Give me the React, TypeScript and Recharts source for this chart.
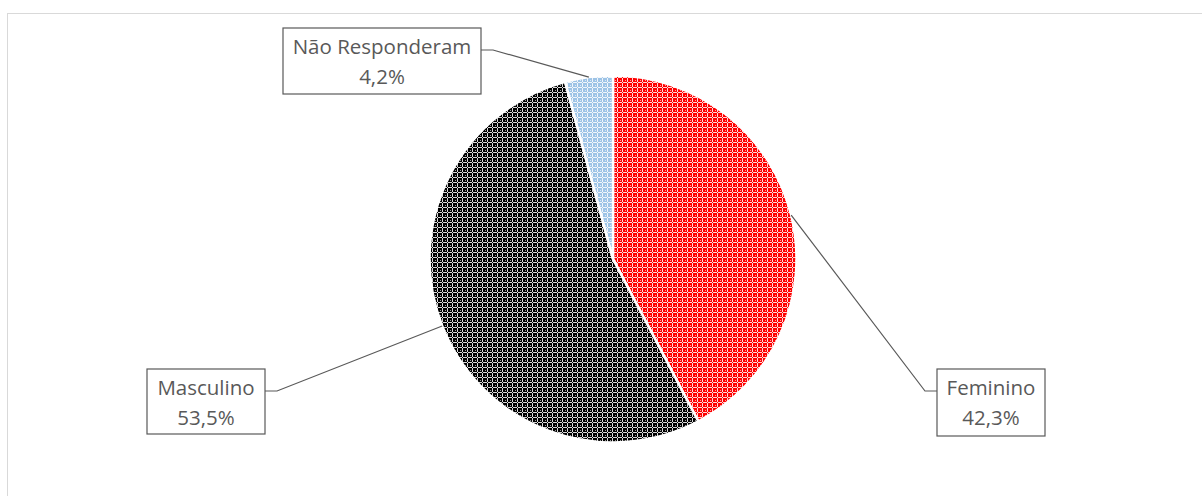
import React from 'react';
import { PieChart, Pie, Cell } from 'recharts';

const categories = ['Feminino', 'Masculino', 'Não Responderam'];
const values = [42.3, 53.5, 4.2];
const colors = ['#ff0000', '#000000', '#9dc3e6'];

const data = categories.map((name, i) => ({ name, value: values[i] }));

// label box layout: offset of box centre from pie centre, box size, side of the leader
const labelLayout = [
  { dx: 378, dy: 143.5, w: 108, h: 67, side: 'left' },
  { dx: -407, dy: 142.5, w: 118, h: 65, side: 'right' },
  { dx: -231, dy: -198, w: 198, h: 66, side: 'right' },
];

const RAD = Math.PI / 180;
const FONT = '"Open Sans", sans-serif';
const GREY = '#595959';

const renderLabel = (props: any) => {
  const { cx, cy, midAngle, outerRadius, index } = props;
  const L = labelLayout[index];
  const px = cx + outerRadius * Math.cos(-midAngle * RAD);
  const py = cy + outerRadius * Math.sin(-midAngle * RAD);
  const bx = cx + L.dx;
  const by = cy + L.dy;
  const left = bx - L.w / 2;
  const top = by - L.h / 2;
  const edgeX = L.side === 'left' ? left : left + L.w;
  const kneeX = L.side === 'left' ? edgeX - 12 : edgeX + 12;
  const lineY = top + 22;
  const pct = values[index].toFixed(1).replace('.', ',') + '%';
  return (
    <g key={`lbl-${index}`}>
      <polyline
        points={`${px},${py} ${kneeX},${lineY} ${edgeX},${lineY}`}
        fill="none"
        stroke={GREY}
        strokeWidth={1.2}
      />
      <rect x={left} y={top} width={L.w} height={L.h} fill="#ffffff" stroke={GREY} strokeWidth={1.2} />
      <text x={bx} y={top + 26} textAnchor="middle" fontFamily={FONT} fontSize={20.5} fill={GREY}>
        {categories[index]}
      </text>
      <text x={bx} y={top + 56} textAnchor="middle" fontFamily={FONT} fontSize={20.5} fill={GREY}>
        {pct}
      </text>
    </g>
  );
};

const Patterns = () => (
  <svg width={0} height={0} style={{ position: 'absolute' }}>
    <defs>
      {colors.map((c, i) => (
        <pattern key={i} id={`pat${i}`} width={5} height={5} patternUnits="userSpaceOnUse">
          <rect x={0} y={0} width={5} height={5} fill={c} />
          <rect x={2} y={0} width={1} height={5} fill="#ffffff" opacity={0.85} />
          <rect x={0} y={2} width={5} height={1} fill="#ffffff" opacity={0.85} />
          <rect x={2} y={2} width={1} height={1} fill={c} />
          <rect x={0} y={0} width={1} height={1} fill="#ffffff" opacity={0.6} />
        </pattern>
      ))}
    </defs>
  </svg>
);

export default function App() {
  return (
    <div style={{ position: 'absolute', left: 0, top: 0, width: 1202, height: 496, background: '#ffffff', overflow: 'hidden' }}>
      <Patterns />
      <div
        style={{
          position: 'absolute',
          left: 7,
          top: 13,
          width: 1300,
          height: 600,
          borderTop: '1px solid #d9d9d9',
          borderLeft: '1px solid #d9d9d9',
        }}
      />
      <div style={{ position: 'absolute', left: 0, top: 0 }}>
        <PieChart width={1202} height={496} margin={{ top: 0, right: 0, bottom: 0, left: 0 }}>
          <Pie
            data={data}
            dataKey="value"
            nameKey="name"
            cx={613}
            cy={259}
            outerRadius={183.5}
            startAngle={90}
            endAngle={-270}
            stroke="#ffffff"
            strokeWidth={2.5}
            label={renderLabel}
            labelLine={false}
            isAnimationActive={false}
          >
            {data.map((d, i) => (
              <Cell key={d.name} fill={`url(#pat${i})`} />
            ))}
          </Pie>
        </PieChart>
      </div>
    </div>
  );
}
